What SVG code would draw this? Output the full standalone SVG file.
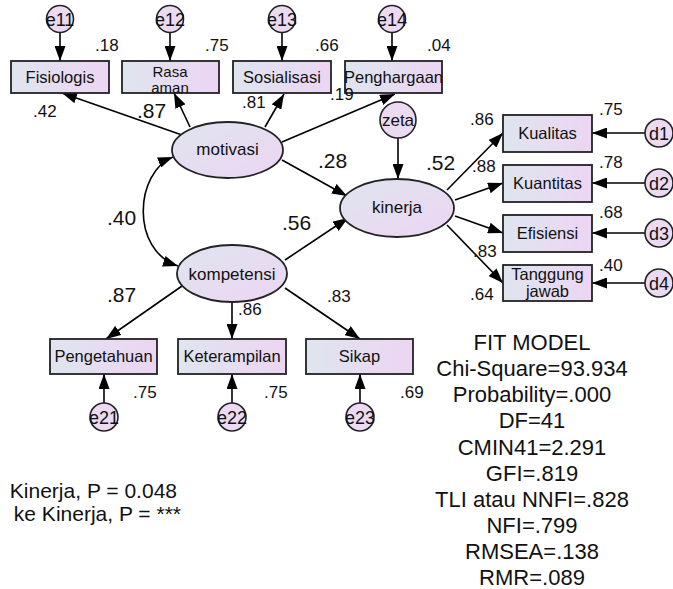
<svg xmlns="http://www.w3.org/2000/svg" width="673" height="589" viewBox="0 0 673 589">
<defs>
<linearGradient id="g" x1="0" y1="0" x2="1" y2="0">
<stop offset="0" stop-color="#dfe5ee"/>
<stop offset="1" stop-color="#ecd5f3"/>
</linearGradient>
<linearGradient id="ge" x1="0" y1="0" x2="1" y2="1">
<stop offset="0" stop-color="#dfe5ee"/>
<stop offset="1" stop-color="#ecd5f3"/>
</linearGradient>
<marker id="a" markerUnits="userSpaceOnUse" markerWidth="15" markerHeight="11" refX="15" refY="5.5" orient="auto-start-reverse">
<path d="M0,0 L15,5.5 L0,11 z" fill="#000"/>
</marker>
</defs>
<style>
rect{fill:url(#g);stroke:#222;stroke-width:1.8}
ellipse{fill:url(#ge);stroke:#222;stroke-width:1.8}
circle{fill:#ebdaf2;stroke:#222;stroke-width:1.6}
text{font-family:"Liberation Sans",Arial,sans-serif;fill:#111}
.n{font-size:16.5px;text-anchor:middle}
.n2{font-size:15px;text-anchor:middle}
.e{font-size:17px;text-anchor:middle}
.c{font-size:18px;text-anchor:middle}
.s{font-size:17px}
.b{font-size:21px}
.f{font-size:22px;text-anchor:middle}
#conn line,#conn path{stroke:#000;stroke-width:1.6;fill:none;marker-end:url(#a)}
</style>

<g id="conn">
<line x1="60" y1="32" x2="60" y2="61"/>
<line x1="170" y1="32" x2="170" y2="61"/>
<line x1="282" y1="32" x2="282" y2="61"/>
<line x1="392" y1="32" x2="392" y2="61"/>
<line x1="182" y1="135" x2="62" y2="93"/>
<line x1="190" y1="127" x2="174" y2="93"/>
<line x1="265" y1="127" x2="284" y2="94"/>
<line x1="282" y1="142" x2="395" y2="94"/>
<line x1="282" y1="160" x2="347" y2="196"/>
<line x1="285" y1="260" x2="348" y2="218"/>
<line x1="398" y1="138" x2="398" y2="179"/>
<path d="M173,157 C135,172 130,250 178,266" style="marker-start:url(#a)"/>
<line x1="182" y1="286" x2="106" y2="339"/>
<line x1="232" y1="302" x2="232" y2="339"/>
<line x1="285" y1="288" x2="360" y2="339"/>
<line x1="104" y1="403" x2="104" y2="374"/>
<line x1="232" y1="403" x2="232" y2="374"/>
<line x1="360" y1="403" x2="360" y2="374"/>
<line x1="447" y1="190" x2="503" y2="133"/>
<line x1="455" y1="200" x2="503" y2="183"/>
<line x1="455" y1="216" x2="503" y2="233"/>
<line x1="447" y1="225" x2="503" y2="283"/>
<line x1="645" y1="133" x2="592" y2="133"/>
<line x1="645" y1="183" x2="592" y2="183"/>
<line x1="645" y1="233" x2="592" y2="233"/>
<line x1="645" y1="283" x2="592" y2="283"/>
</g>

<g id="e11"><circle cx="60" cy="19" r="13.5"/><text class="c" x="60" y="25.5">e11</text></g>
<g id="e12"><circle cx="170" cy="19" r="13.5"/><text class="c" x="170" y="25.5">e12</text></g>
<g id="e13"><circle cx="282" cy="19" r="13.5"/><text class="c" x="282" y="25.5">e13</text></g>
<g id="e14"><circle cx="392" cy="19" r="13.5"/><text class="c" x="392" y="25.5">e14</text></g>

<g id="fisiologis"><rect x="11" y="61" width="98" height="32"/><text class="n" x="60" y="83">Fisiologis</text></g>
<g id="rasa-aman"><rect x="122" y="61" width="97" height="32"/><text class="n2" x="170" y="77">Rasa</text><text class="n2" x="170" y="93">aman</text></g>
<g id="sosialisasi"><rect x="233" y="61" width="98" height="32"/><text class="n" x="282" y="83">Sosialisasi</text></g>
<g id="penghargaan"><rect x="345" y="61" width="97" height="32"/><text class="n" x="393.5" y="83">Penghargaan</text></g>

<g id="motivasi"><ellipse cx="227.5" cy="150" rx="55.5" ry="28"/><text class="e" x="227.5" y="155">motivasi</text></g>
<g id="kompetensi"><ellipse cx="232" cy="273.5" rx="55" ry="28.5"/><text class="e" x="232" y="280">kompetensi</text></g>
<g id="kinerja"><ellipse cx="397" cy="208" rx="57" ry="29"/><text class="e" x="397" y="213">kinerja</text></g>
<g id="zeta"><circle cx="398" cy="120" r="18"/><text class="e" x="398" y="126">zeta</text></g>

<g id="kualitas"><rect x="503" y="115" width="89" height="37"/><text class="n" x="547.5" y="139">Kualitas</text></g>
<g id="kuantitas"><rect x="503" y="165" width="89" height="37"/><text class="n" x="547.5" y="189">Kuantitas</text></g>
<g id="efisiensi"><rect x="503" y="215" width="89" height="37"/><text class="n" x="547.5" y="239">Efisiensi</text></g>
<g id="tanggung-jawab"><rect x="503" y="265" width="89" height="36"/><text class="n" x="547.5" y="280">Tanggung</text><text class="n" x="547.5" y="297">jawab</text></g>

<g id="d1"><circle cx="659" cy="133" r="14"/><text class="c" x="659" y="139.5">d1</text></g>
<g id="d2"><circle cx="659" cy="183" r="14"/><text class="c" x="659" y="189.5">d2</text></g>
<g id="d3"><circle cx="659" cy="233" r="14"/><text class="c" x="659" y="239.5">d3</text></g>
<g id="d4"><circle cx="659" cy="283" r="14"/><text class="c" x="659" y="289.5">d4</text></g>

<g id="pengetahuan"><rect x="50" y="339" width="107" height="35"/><text class="n" x="103.5" y="362">Pengetahuan</text></g>
<g id="keterampilan"><rect x="178" y="339" width="108" height="35"/><text class="n" x="232" y="362">Keterampilan</text></g>
<g id="sikap"><rect x="306" y="339" width="107" height="35"/><text class="n" x="359.5" y="362">Sikap</text></g>

<g id="e21"><circle cx="104" cy="417" r="14"/><text class="c" x="104" y="423.5">e21</text></g>
<g id="e22"><circle cx="232" cy="417" r="14"/><text class="c" x="232" y="423.5">e22</text></g>
<g id="e23"><circle cx="360" cy="417" r="14"/><text class="c" x="360" y="423.5">e23</text></g>

<g id="labels">
<text class="s" x="95" y="51">.18</text>
<text class="s" x="205" y="51">.75</text>
<text class="s" x="315" y="51">.66</text>
<text class="s" x="427" y="51">.04</text>
<text class="s" x="33" y="117">.42</text>
<text class="b" x="137" y="118">.87</text>
<text class="s" x="242" y="108">.81</text>
<text class="s" x="330" y="100">.19</text>
<text class="b" x="318" y="168">.28</text>
<text class="b" x="426" y="170">.52</text>
<text class="b" x="107" y="225">.40</text>
<text class="b" x="282" y="230">.56</text>
<text class="b" x="107" y="302">.87</text>
<text class="s" x="238" y="315">.86</text>
<text class="s" x="327" y="302">.83</text>
<text class="s" x="133" y="398">.75</text>
<text class="s" x="264" y="398">.75</text>
<text class="s" x="400" y="398">.69</text>
<text class="s" x="470" y="125">.86</text>
<text class="s" x="472" y="172">.88</text>
<text class="s" x="473" y="257">.83</text>
<text class="s" x="470" y="300">.64</text>
<text class="s" x="599" y="115">.75</text>
<text class="s" x="599" y="168">.78</text>
<text class="s" x="599" y="218">.68</text>
<text class="s" x="599" y="271">.40</text>
</g>

<g id="notes">
<text style="font-size:21px;text-anchor:end" x="177" y="498">Kinerja, P = 0.048</text>
<text style="font-size:21px;text-anchor:end" x="181" y="521">ke Kinerja, P = ***</text>
</g>

<g id="fit-model">
<text class="f" x="532" y="350">FIT MODEL</text>
<text class="f" x="532" y="376">Chi-Square=93.934</text>
<text class="f" x="532" y="402">Probability=.000</text>
<text class="f" x="532" y="428">DF=41</text>
<text class="f" x="532" y="455">CMIN41=2.291</text>
<text class="f" x="532" y="481">GFI=.819</text>
<text class="f" x="532" y="507">TLI atau NNFI=.828</text>
<text class="f" x="532" y="533">NFI=.799</text>
<text class="f" x="532" y="559">RMSEA=.138</text>
<text class="f" x="532" y="585">RMR=.089</text>
</g>
</svg>
